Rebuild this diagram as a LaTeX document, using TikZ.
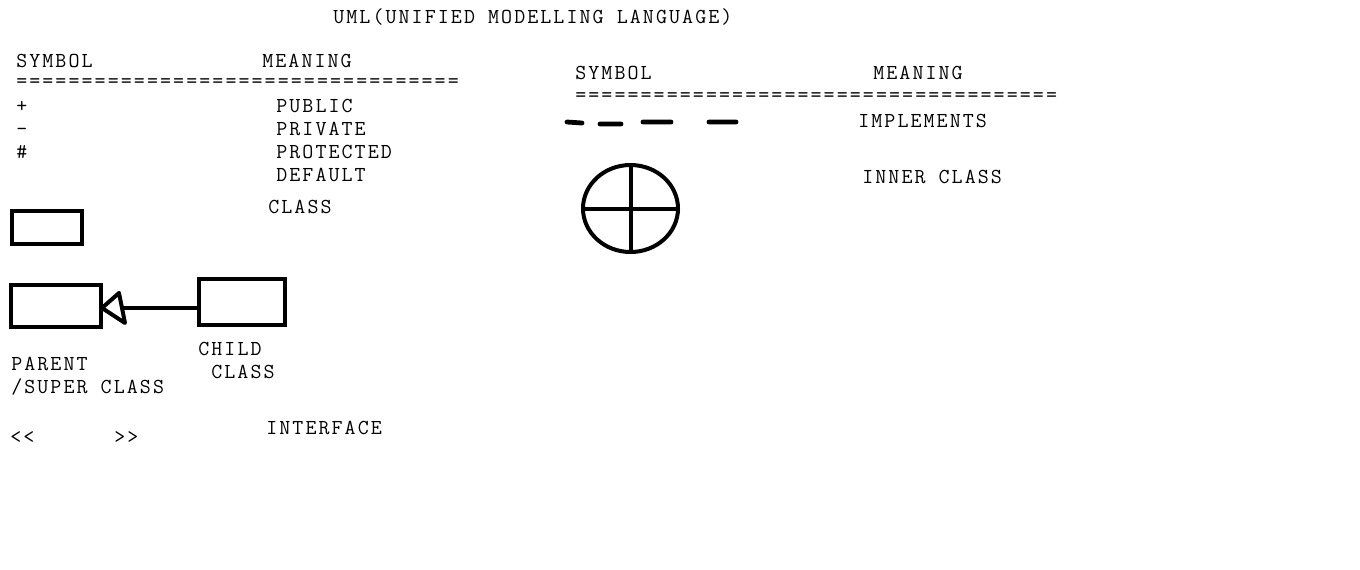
\documentclass[tikz,border=0pt]{standalone}
\usepackage{fontspec}
\setmonofont[LetterSpace=9.8]{Latin Modern Mono}
\usetikzlibrary{shapes.geometric}
\begin{document}
\begin{tikzpicture}[x=0.75pt,y=-0.75pt,
  txt/.style={anchor=base west,inner sep=0pt,font=\ttfamily\fontsize{16}{18}\selectfont},
  box/.style={draw,line width=3pt,inner sep=0pt},
  thick3/.style={line width=3pt,line cap=round,line join=round}]
\useasboundingbox (0,0) rectangle (1360,569);
% title
\node[txt] (title) at (333,23) {UML(UNIFIED MODELLING LANGUAGE)};
% left table
\node[txt] (sym1) at (16,67) {SYMBOL};
\node[txt] (mean1) at (262,67) {MEANING};
\node[txt] (eq1) at (16,87) {==================================};
\node[txt] (plus) at (16,112) {+};
\node[txt] (minus) at (16,135) {-};
\node[txt] (hash) at (16,158) {\#};
\node[txt] (public) at (276,112) {PUBLIC};
\node[txt] (private) at (276,135) {PRIVATE};
\node[txt] (protected) at (276,158) {PROTECTED};
\node[txt] (default) at (276,181) {DEFAULT};
\node[txt] (classlbl) at (268,213) {CLASS};
\node[box,minimum width=52.5pt,minimum height=24.75pt] (cls) at (47,227.5) {};
% inheritance
\node[box,minimum width=67.5pt,minimum height=31.5pt] (parent) at (56,306) {};
\node[box,minimum width=64.5pt,minimum height=34.5pt] (child) at (242,302) {};
\coordinate (tt) at (119,293);
\coordinate (tl) at (102,308);
\coordinate (tb) at (125,323);
\coordinate (tm) at (123,308);
\draw[thick3] (tt) -- (tl) -- (tb) -- (tt);
\draw[thick3] (child.west |- tm) -- (tm);
\node[txt] (parentlbl) at (11,370) {PARENT};
\node[txt] (superlbl) at (11,393) {/SUPER CLASS};
\node[txt] (childlbl) at (198,355) {CHILD};
\node[txt] (childcls) at (211,378) {CLASS};
\node[txt] (interface) at (266,434) {INTERFACE};
\node[txt] (ll) at (10,443) {{<}{<}};
\node[txt] (gg) at (114,443) {{>}{>}};
% right table
\node[txt] (sym2) at (575,79) {SYMBOL};
\node[txt] (mean2) at (873,79) {MEANING};
\node[txt] (eq2) at (575,101) {=====================================};
\node[txt] (impl) at (858,127) {IMPLEMENTS};
\coordinate (d1a) at (567,122); \coordinate (d1b) at (582,123);
\coordinate (d2a) at (600,124); \coordinate (d2b) at (621,124);
\coordinate (d3a) at (643,122); \coordinate (d3b) at (671,122);
\coordinate (d4a) at (709,122); \coordinate (d4b) at (736,122);
\draw[line width=3.6pt,line cap=round] (d1a) -- (d1b) (d2a) -- (d2b) (d3a) -- (d3b) (d4a) -- (d4b);
\node[draw,ellipse,line width=3pt,inner sep=0pt,minimum width=71.25pt,minimum height=65.25pt] (inner) at (630.5,208.5) {};
\draw[line width=3pt] (inner.north) -- (inner.south) (inner.west) -- (inner.east);
\node[txt] (innerlbl) at (862,183) {INNER CLASS};
\end{tikzpicture}
\end{document}
